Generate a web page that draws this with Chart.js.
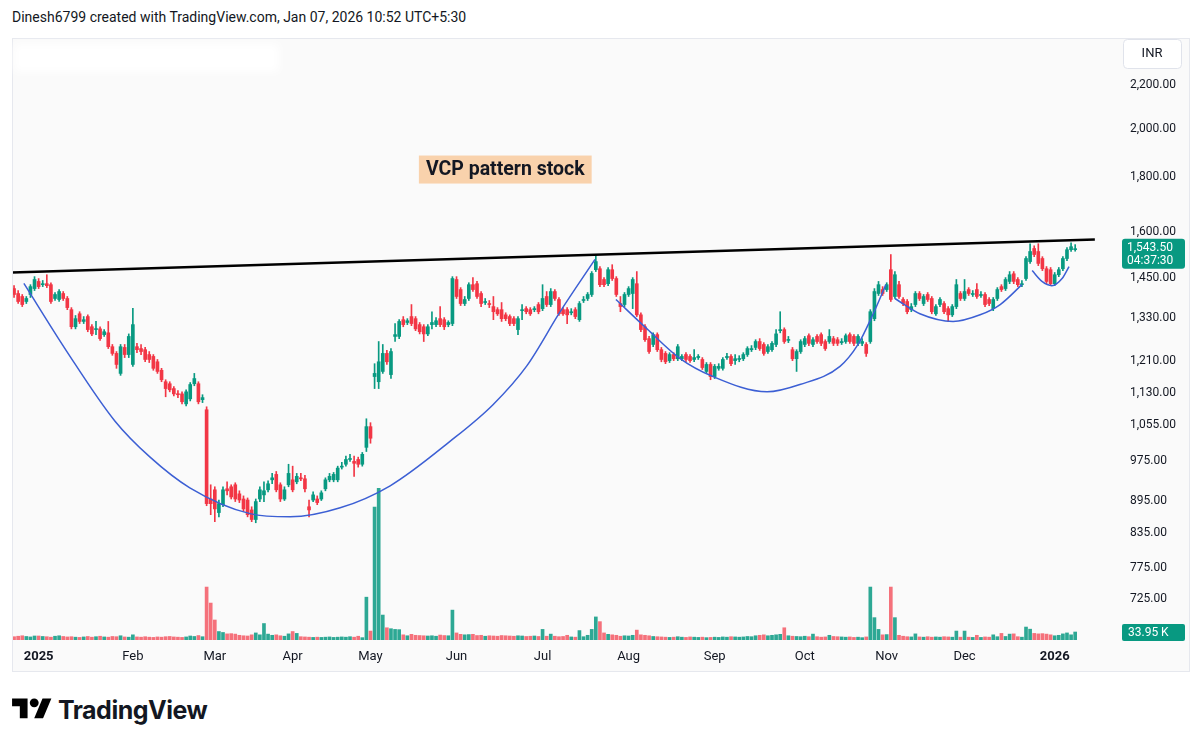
<!DOCTYPE html>
<html lang="en">
<head>
<meta charset="UTF-8">
<title>VCP pattern stock</title>
<script src="https://cdn.jsdelivr.net/npm/chart.js"></script>
<style>
    body {
        margin: 0;
        background: #ffffff;
        font-family: Roboto, 'Noto Sans', sans-serif;
        color: #131722;
    }
    #hdr {
        position: absolute;
        left: 12px;
        top: 9px;
        font-size: 14px;
    }
    #pane {
        position: absolute;
        left: 12px;
        top: 38px;
        width: 1178px;
        height: 634px;
    }
    #smudge {
        position: absolute;
        left: 2px;
        top: 6px;
        width: 265px;
        height: 28px;
        background: #ffffff;
        filter: blur(5px);
    }
    #logo {
        position: absolute;
        left: 12px;
        top: 694px;
        display: flex;
        align-items: center;
    }
    #logo span {
        font-family: Inter, Roboto, sans-serif;
        font-weight: 700;
        font-size: 25px;
        margin-left: 6px;
        letter-spacing: -0.5px;
    }
</style>
</head>
<body>
<div id="hdr">Dinesh6799 created with TradingView.com, Jan 07, 2026 10:52 UTC+5:30</div>
<div id="pane">
    <canvas id="chart" width="1178" height="634"></canvas>
    <div id="smudge"></div>
</div>
<div id="logo">
    <svg width="40" height="31" viewBox="0 0 36 28"><path d="M14 22H7V11H0V4h14v18zM28 22h-8l7.5-18h8L28 22z" fill="#000"/><circle cx="20" cy="8" r="4" fill="#000"/></svg>
    <span>TradingView</span>
</div>

<script>
// daily candles, Dec 2024 -> Jan 2026 (index 0 = first visible bar)
const opens = [
    1416,1401,1392,1377,1398,1416,1438,1428,1431,1428,
    1386,1383,1401,1386,1353,1304,1341,1319,1333,1304,
    1296,1298,1282,1287,1249,1231,1179,1247,1228,1202,
    1249,1244,1241,1228,1223,1209,1187,1158,1153,1141,
    1128,1128,1104,1116,1153,1153,1114,1090,899,917,
    873,888,919,923,927,909,899,897,878,860,
    899,907,917,937,948,927,899,927,937,933,
    941,939,884,897,899,899,919,937,937,937,
    963,969,979,975,979,969,1005,1051,1171,1158,
    1184,1231,1176,1277,1277,1324,1316,1333,1327,1310,
    1304,1284,1310,1310,1327,1324,1310,1313,1444,1413,
    1371,1386,1428,1431,1401,1374,1371,1362,1353,1353,
    1338,1333,1327,1296,1350,1356,1353,1353,1368,1356,
    1392,1368,1407,1383,1353,1353,1344,1353,1324,1380,
    1386,1398,1475,1478,1444,1431,1475,1447,1371,1368,
    1398,1401,1431,1338,1304,1271,1255,1282,1241,1231,
    1212,1228,1217,1217,1228,1223,1215,1220,1215,1184,
    1202,1171,1192,1192,1220,1223,1212,1215,1217,1228,
    1241,1247,1263,1255,1236,1241,1255,1293,1296,1266,
    1241,1217,1236,1255,1279,1255,1277,1282,1263,1263,
    1271,1268,1260,1263,1282,1277,1258,1258,1255,1263,
    1327,1401,1413,1413,1475,1392,1428,1383,1377,1353,
    1368,1401,1371,1398,1386,1341,1368,1371,1356,1338,
    1362,1401,1386,1413,1398,1413,1395,1398,1383,1356,
    1386,1422,1416,1438,1462,1444,1428,1447,1501,1544,
    1534,1511,1478,1475,1431,1459,1478,1511,1540,1540
];
const highs = [
    1425,1410,1398,1392,1428,1453,1447,1441,1459,1434,
    1404,1413,1407,1392,1359,1336,1347,1333,1338,1310,
    1319,1304,1296,1319,1255,1236,1255,1255,1284,1357,
    1258,1255,1247,1236,1228,1215,1192,1163,1158,1146,
    1136,1133,1138,1156,1179,1158,1126,1097,927,923,
    897,923,933,927,931,915,905,901,884,899,
    923,933,935,950,954,931,923,969,965,950,
    950,946,897,913,905,915,941,950,952,965,
    973,986,990,986,984,994,1069,1060,1204,1263,
    1255,1239,1244,1313,1324,1333,1327,1368,1333,1316,
    1310,1310,1347,1330,1362,1330,1321,1453,1453,1419,
    1392,1434,1450,1438,1407,1386,1380,1392,1359,1374,
    1344,1338,1333,1333,1368,1362,1359,1362,1374,1428,
    1407,1416,1413,1389,1359,1359,1356,1359,1377,1392,
    1404,1469,1524,1485,1450,1482,1491,1453,1392,1404,
    1422,1450,1469,1344,1310,1277,1287,1287,1247,1236,
    1233,1233,1255,1228,1233,1228,1241,1228,1220,1207,
    1207,1202,1204,1220,1231,1228,1228,1225,1233,1249,
    1252,1268,1271,1260,1255,1263,1296,1347,1301,1277,
    1247,1241,1268,1277,1284,1274,1282,1287,1268,1296,
    1277,1274,1271,1284,1287,1282,1282,1271,1260,1353,
    1416,1438,1422,1434,1524,1469,1438,1389,1383,1371,
    1407,1407,1398,1404,1392,1368,1389,1377,1362,1368,
    1444,1407,1444,1419,1410,1431,1407,1404,1389,1389,
    1419,1428,1450,1469,1469,1450,1441,1517,1560,1553,
    1560,1517,1485,1482,1466,1482,1517,1547,1563,1557
];
const lows = [
    1389,1371,1362,1371,1389,1410,1416,1422,1419,1371,
    1380,1377,1380,1353,1298,1298,1313,1313,1290,1279,
    1282,1266,1277,1244,1226,1192,1174,1220,1220,1197,
    1233,1228,1209,1207,1187,1179,1158,1121,1133,1123,
    1119,1104,1099,1111,1148,1104,1107,886,869,856,
    865,884,907,899,894,892,875,865,856,854,
    894,894,913,929,913,894,896,923,913,929,
    935,913,865,894,888,896,915,933,933,933,
    959,965,975,944,963,965,996,1014,1141,1141,
    1179,1202,1166,1263,1271,1304,1310,1307,1293,1284,
    1263,1279,1298,1304,1304,1296,1304,1307,1386,1365,
    1365,1380,1407,1386,1362,1368,1359,1324,1336,1319,
    1321,1307,1307,1282,1324,1341,1336,1347,1341,1350,
    1362,1362,1380,1336,1336,1313,1338,1327,1319,1374,
    1380,1392,1469,1422,1422,1425,1441,1392,1347,1362,
    1392,1356,1333,1290,1263,1231,1249,1236,1209,1204,
    1207,1212,1212,1212,1209,1207,1209,1215,1189,1179,
    1163,1166,1187,1187,1215,1199,1202,1209,1212,1223,
    1236,1241,1239,1226,1231,1236,1249,1287,1258,1260,
    1212,1184,1231,1249,1252,1249,1258,1252,1239,1258,
    1252,1252,1255,1258,1258,1252,1252,1252,1223,1258,
    1321,1395,1395,1407,1377,1386,1386,1365,1341,1347,
    1362,1380,1365,1377,1341,1336,1362,1341,1319,1333,
    1356,1380,1380,1395,1392,1386,1389,1362,1365,1350,
    1380,1407,1410,1431,1431,1422,1422,1441,1495,1517,
    1488,1472,1431,1425,1425,1453,1472,1504,1534,1535
];
const closes = [
    1398,1377,1368,1386,1422,1444,1422,1431,1425,1377,
    1398,1407,1386,1359,1304,1327,1319,1324,1296,1284,
    1298,1271,1290,1249,1231,1202,1249,1228,1277,1310,
    1241,1236,1215,1215,1192,1184,1163,1141,1138,1128,
    1126,1109,1133,1151,1166,1109,1119,890,890,880,
    890,917,915,903,899,897,880,869,860,894,
    917,915,929,941,917,899,917,950,917,944,
    939,919,878,907,892,911,937,944,948,961,
    965,979,981,971,969,990,1051,1025,1179,1209,
    1231,1209,1236,1282,1319,1310,1321,1313,1298,1290,
    1284,1304,1316,1321,1310,1304,1316,1447,1392,1371,
    1383,1428,1413,1392,1371,1377,1368,1347,1341,1327,
    1327,1313,1313,1327,1353,1347,1341,1356,1347,1386,
    1368,1407,1386,1341,1341,1338,1347,1333,1371,1383,
    1398,1463,1501,1428,1428,1475,1447,1398,1362,1398,
    1416,1444,1338,1296,1268,1236,1282,1241,1215,1209,
    1228,1217,1249,1223,1215,1212,1220,1223,1194,1202,
    1171,1197,1197,1215,1223,1204,1217,1217,1228,1244,
    1244,1263,1244,1231,1249,1258,1284,1296,1263,1268,
    1217,1236,1263,1271,1258,1268,1263,1258,1244,1277,
    1258,1258,1263,1279,1263,1258,1277,1263,1231,1347,
    1407,1428,1401,1428,1383,1459,1392,1371,1347,1362,
    1401,1386,1392,1383,1347,1362,1383,1347,1338,1362,
    1428,1386,1407,1401,1401,1392,1398,1368,1371,1383,
    1413,1413,1444,1459,1438,1428,1431,1511,1534,1524,
    1495,1478,1438,1431,1459,1475,1511,1540,1550,1543.5
];
// volume in thousands
const volumes = [
    14,16,18,15,13,17,17,15,14,12,
    16,18,15,13,14,12,11,13,15,12,
    14,16,13,12,15,14,18,13,12,22,
    13,12,14,12,11,13,12,14,15,13,
    12,11,13,17,15,19,14,225,157,85,
    36,32,26,27,25,20,18,17,22,30,
    22,70,25,20,22,18,16,26,36,28,
    14,13,12,11,12,11,12,13,11,12,
    13,12,14,12,16,10,182,38,565,645,
    106,52,48,45,44,22,18,24,20,19,
    18,17,18,16,21,19,18,127,30,24,
    22,23,24,19,20,16,18,17,16,19,
    18,17,16,18,17,15,16,17,15,45,
    16,25,16,14,15,20,13,12,40,14,
    20,45,98,78,30,24,22,20,16,18,
    17,20,42,22,20,18,15,14,13,12,
    11,12,14,12,11,13,12,11,12,10,
    11,12,11,13,12,14,13,12,13,15,
    14,18,20,22,18,20,22,24,52,18,
    16,15,14,16,14,25,14,12,13,20,
    15,14,13,12,13,11,12,10,13,225,
    95,45,22,23,225,95,20,16,14,13,
    26,13,12,14,12,13,12,14,13,12,
    38,12,38,12,11,20,11,13,12,22,
    14,28,15,25,26,14,12,55,46,28,
    26,27,25,22,18,20,26,30,22,33.95
];

// month labels on the time axis (bar index -> text)
const tickIdx = [6, 29, 49, 68, 87, 108, 129, 150, 171, 193, 213, 232, 254];
const tickText = ['2025', 'Feb', 'Mar', 'Apr', 'May', 'Jun', 'Jul', 'Aug', 'Sep', 'Oct', 'Nov', 'Dec', '2026'];
const priceTicks = [725, 775, 835, 895, 975, 1055, 1130, 1210, 1330, 1450, 1600, 1800, 2000, 2200];

// drawings: [bar index, price]
const trendLine = [[-0.5, 1466], [263.8, 1574]];
const cupA = [[2.4,1432],[12.9,1236],[24.6,1064],[33.2,984],[42.9,921],[57.6,871],[67.4,865],[79.6,882],[91.8,925],[106.4,1018],[116.9,1102],[125.2,1199],[133.3,1347],[141.8,1508]];
const cupB = [[146.9,1383],[154.5,1298],[162.5,1218],[170.6,1171],[183.8,1133],[191.8,1151],[201.6,1197],[206.0,1255],[209.4,1333],[212.8,1428]];
const cupC = [[215.0,1386],[221.1,1341],[229.2,1319],[235.8,1338],[240.7,1368],[246.0,1428]];
const cupD = [[248.5,1472],[250.9,1438],[253.3,1425],[255.8,1447],[257.5,1485]];
const noteText = 'VCP pattern stock';
const noteAt = [119.9, 1831];
const countdown = '04:37:30';

const UP = '#089981';
const DOWN = '#f23645';

const isUp = opens.map((o, i) => closes[i] >= o);
const candleColors = isUp.map(u => u ? UP : DOWN);
const volColors = isUp.map(u => u ? 'rgba(8,153,129,0.85)' : 'rgba(242,54,69,0.7)');

function fmt(v) {
    return v.toLocaleString('en-US', { minimumFractionDigits: 2, maximumFractionDigits: 2 });
}

function roundRect(c, x, y, w, h, r) {
    c.beginPath();
    c.moveTo(x + r, y);
    c.arcTo(x + w, y, x + w, y + h, r);
    c.arcTo(x + w, y + h, x, y + h, r);
    c.arcTo(x, y + h, x, y, r);
    c.arcTo(x, y, x + w, y, r);
    c.closePath();
}

function curve(points) {
    return {
        type: 'line',
        data: points.map(p => ({ x: p[0], y: p[1] })),
        borderColor: '#3c5fd4',
        borderWidth: 1.5,
        pointRadius: 0,
        cubicInterpolationMode: 'monotone',
        order: 1
    };
}

const overlay = {
    id: 'overlay',
    beforeDraw(chart) {
        const c = chart.ctx;
        c.save();
        c.fillStyle = '#fafafa';
        c.fillRect(0, 0, chart.width, chart.height);
        c.restore();
    },
    afterDraw(chart) {
        const c = chart.ctx;
        const { x, y, yv } = chart.scales;
        const area = chart.chartArea;
        c.save();

        c.strokeStyle = '#e6e8ee';
        c.lineWidth = 1;
        c.strokeRect(0.5, 0.5, chart.width - 1, chart.height - 1);

        // text note
        const nx = x.getPixelForValue(noteAt[0]);
        const ny = y.getPixelForValue(noteAt[1]);
        c.font = 'bold 19.5px Roboto';
        const tw = c.measureText(noteText).width;
        c.fillStyle = '#f9d2ac';
        c.fillRect(nx - tw / 2 - 7, ny - 14, tw + 14, 28);
        c.fillStyle = '#131722';
        c.textAlign = 'center';
        c.textBaseline = 'middle';
        c.fillText(noteText, nx, ny + 1);

        // currency box
        c.fillStyle = '#ffffff';
        c.strokeStyle = '#e0e3eb';
        roundRect(c, area.right + 13.5, 1.5, 58, 29, 4);
        c.fill();
        c.stroke();
        c.fillStyle = '#131722';
        c.font = '13px Roboto';
        c.fillText('INR', area.right + 42, 16);

        // last price
        const last = closes[closes.length - 1];
        const py = y.getPixelForValue(last);
        c.fillStyle = UP;
        roundRect(c, area.right + 12, py - 10, 63, 30, 3);
        c.fill();
        c.fillStyle = '#ffffff';
        c.font = '12px Roboto';
        c.textAlign = 'left';
        c.fillText(fmt(last), area.right + 17, py - 1);
        c.fillText(countdown, area.right + 17, py + 12);

        // last volume
        const lastVol = volumes[volumes.length - 1];
        const vy = yv.getPixelForValue(lastVol);
        c.fillStyle = UP;
        roundRect(c, area.right + 12, vy - 8, 63, 17, 2);
        c.fill();
        c.fillStyle = '#ffffff';
        c.font = '12px Roboto';
        c.fillText(lastVol.toFixed(2) + ' K', area.right + 18, vy + 1);

        c.restore();
    }
};

new Chart(document.getElementById('chart'), {
    type: 'bar',
    data: {
        datasets: [
            {
                data: volumes.map((v, i) => ({ x: i, y: v })),
                yAxisID: 'yv',
                backgroundColor: volColors,
                barThickness: 3,
                grouped: false,
                order: 10
            },
            {
                data: lows.map((l, i) => ({ x: i, y: [l, highs[i]] })),
                backgroundColor: candleColors,
                barThickness: 1,
                grouped: false,
                order: 5
            },
            {
                data: opens.map((o, i) => ({ x: i, y: [Math.min(o, closes[i]), Math.max(o, closes[i])] })),
                backgroundColor: candleColors,
                barThickness: 3,
                minBarLength: 1,
                grouped: false,
                order: 4
            },
            {
                type: 'line',
                data: trendLine.map(p => ({ x: p[0], y: p[1] })),
                borderColor: '#000000',
                borderWidth: 2.5,
                pointRadius: 0,
                order: 0
            },
            curve(cupA),
            curve(cupB),
            curve(cupC),
            curve(cupD)
        ]
    },
    options: {
        responsive: false,
        devicePixelRatio: 1,
        animation: false,
        events: [],
        layout: { padding: { top: 2, left: 0, right: 0, bottom: 0 } },
        plugins: {
            legend: { display: false },
            tooltip: { enabled: false }
        },
        scales: {
            x: {
                type: 'linear',
                min: -0.5,
                max: 267.5,
                offset: false,
                grid: { display: false, drawTicks: false },
                border: { display: false },
                afterBuildTicks: s => { s.ticks = tickIdx.map(v => ({ value: v })); },
                afterFit: s => {
                    s.height = 32;
                    s.paddingLeft = 0;
                    s.paddingRight = 0;
                },
                ticks: {
                    autoSkip: false,
                    maxRotation: 0,
                    padding: 9,
                    color: '#131722',
                    font: ctx => ({
                        family: 'Roboto',
                        size: 13,
                        weight: (ctx.tick && /^\d{4}$/.test(ctx.tick.label)) ? 'bold' : 'normal'
                    }),
                    callback: v => tickText[tickIdx.indexOf(v)] || ''
                }
            },
            y: {
                type: 'logarithmic',
                position: 'right',
                min: 663,
                max: 2422,
                grid: { display: false, drawTicks: false },
                border: { display: false },
                afterBuildTicks: s => { s.ticks = priceTicks.map(v => ({ value: v })); },
                afterFit: s => {
                    s.width = 80;
                    s.paddingTop = 0;
                    s.paddingBottom = 0;
                },
                ticks: {
                    padding: 20,
                    color: '#131722',
                    font: { family: 'Roboto', size: 12 },
                    callback: v => fmt(v)
                }
            },
            yv: {
                type: 'linear',
                display: false,
                min: 0,
                max: 2550
            }
        }
    },
    plugins: [overlay]
});
</script>
</body>
</html>
